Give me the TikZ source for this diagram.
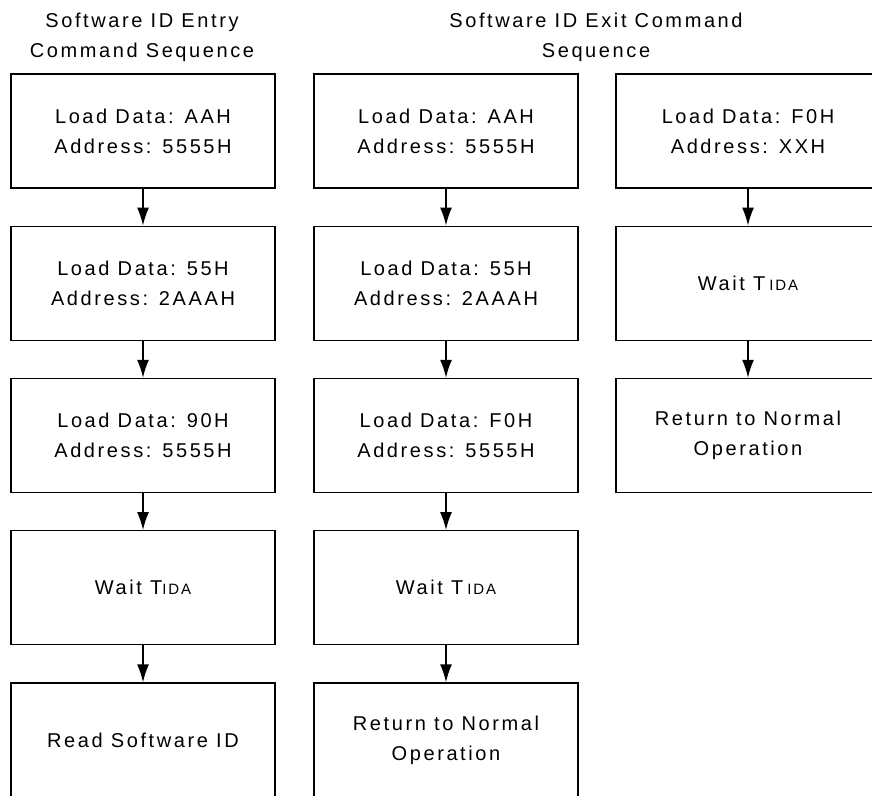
\documentclass[tikz,border=0pt]{standalone}
\usepackage{fontspec}
\setmainfont{Liberation Sans}[LetterSpace=13]
\usetikzlibrary{arrows.meta}

\newcommand\tida{{\fontsize{15}{30}\selectfont IDA}}

\begin{document}
\begin{tikzpicture}[x=1pt, y=-1pt, >={Latex[length=18pt,width=12pt]},
  stepbox/.style={draw, line width=1.4pt, minimum width=264pt, minimum height=114pt,
    inner sep=0pt, align=center, font=\fontsize{20}{30}\selectfont},
  headline/.style={align=center, font=\fontsize{20}{30}\selectfont},
  flow/.style={->, line width=1.5pt}]
  \def\dy{152.25}
  \useasboundingbox (0,0) rectangle (872,795);
  \clip (0,0) rectangle (872,795);

  % headings
  \node[headline] (hentry) at (142,37) {Software ID Entry\\Command Sequence};
  \node[headline] (hexit) at (596,37) {Software ID Exit Command\\Sequence};

  % entry sequence
  \node[stepbox] (en1) at (143,131) {Load Data: AAH\\Address: 5555H};
  \node[stepbox] (en2) at (143,131+\dy) {Load Data: 55H\\Address: 2AAAH};
  \node[stepbox] (en3) at (143,131+2*\dy) {Load Data: 90H\\Address: 5555H};
  \node[stepbox] (en4) at (143,131+3*\dy) {Wait T\tida};
  \node[stepbox] (en5) at (143,131+4*\dy) {Read Software ID};

  % exit sequence, long form
  \node[stepbox] (ex1) at (446,131) {Load Data: AAH\\Address: 5555H};
  \node[stepbox] (ex2) at (446,131+\dy) {Load Data: 55H\\Address: 2AAAH};
  \node[stepbox] (ex3) at (446,131+2*\dy) {Load Data: F0H\\Address: 5555H};
  \node[stepbox] (ex4) at (446,131+3*\dy) {Wait T\hspace{4pt}\tida};
  \node[stepbox] (ex5) at (446,131+4*\dy) {Return to Normal\\Operation};

  % exit sequence, short form
  \node[stepbox] (sx1) at (748,131) {Load Data: F0H\\Address: XXH};
  \node[stepbox] (sx2) at (748,131+\dy) {Wait T\hspace{4pt}\tida};
  \node[stepbox] (sx3) at (748,131+2*\dy) {Return to Normal\\Operation};

  \foreach \a/\b in {en1/en2, en2/en3, en3/en4, en4/en5,
                     ex1/ex2, ex2/ex3, ex3/ex4, ex4/ex5,
                     sx1/sx2, sx2/sx3} {
    \draw[flow] (\a) -- (\b);
  }
\end{tikzpicture}
\end{document}
